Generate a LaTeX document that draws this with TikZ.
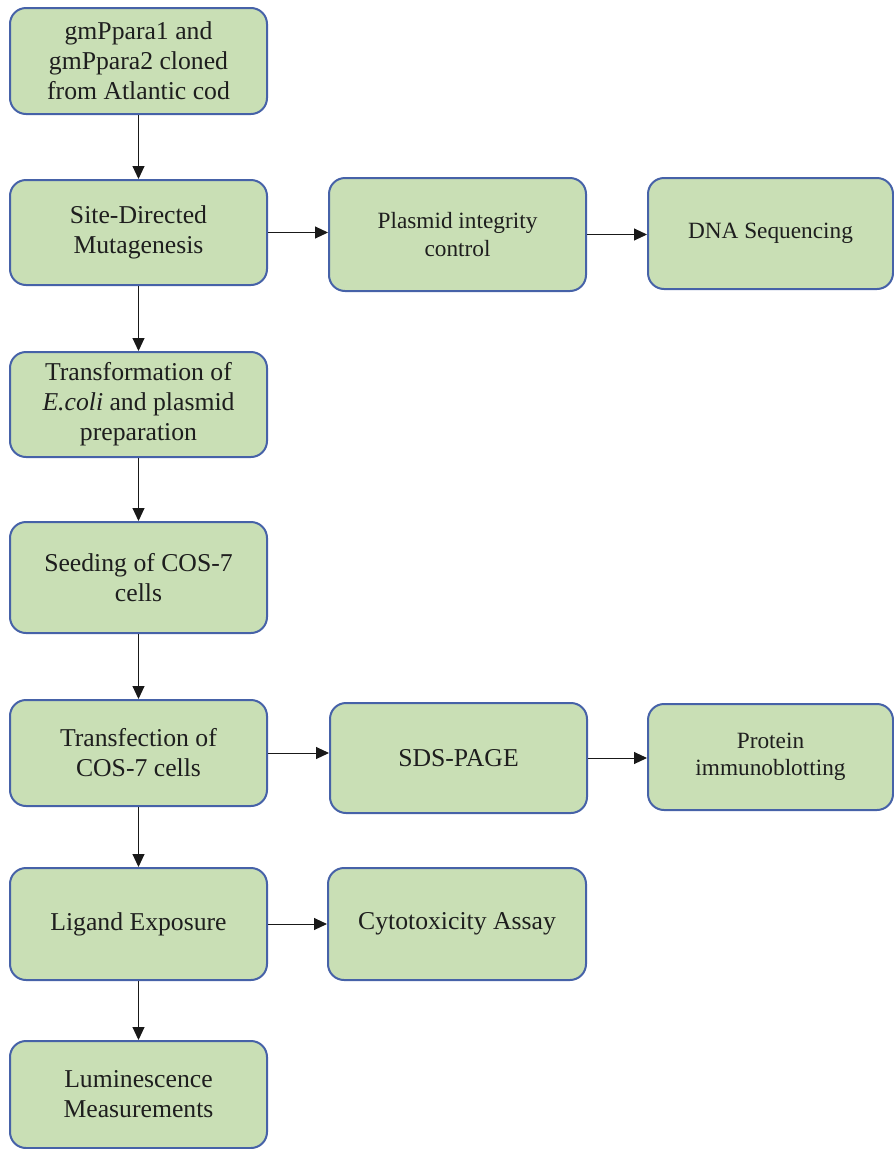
\documentclass[tikz,border=0pt]{standalone}
\usepackage{fontspec}
\setmainfont{Liberation Serif}
\usetikzlibrary{arrows.meta}
\definecolor{boxfill}{HTML}{C9DFB5}
\definecolor{boxline}{HTML}{4662A8}
\definecolor{txt}{HTML}{1E1E1E}
\tikzset{
  stepbox/.style={draw=boxline, fill=boxfill, line width=2pt, rounded corners=16pt,
    align=center, text=txt, inner sep=0pt, font=\fontsize{25.7}{30}\selectfont},
  smalltext/.style={font=\fontsize{23.3}{27.5}\selectfont},
  flow/.style={-{Triangle[length=13pt,width=12pt]}, line width=1pt, draw=black!90}
}
\begin{document}
\begin{tikzpicture}[x=1pt,y=-1pt]
\useasboundingbox (0,0) rectangle (894,1149);
% left column
\node[stepbox, minimum width=257pt, minimum height=106pt] (b1) at (138.5,61) {gmPpara1 and\\gmPpara2 cloned\\from Atlantic cod};
\node[stepbox, minimum width=257pt, minimum height=105pt] (b2) at (138.5,232.5) {Site-Directed\\Mutagenesis};
\node[stepbox, minimum width=257pt, minimum height=105pt] (b3) at (138.5,404.5) {Transformation of\\\textit{E.coli} and plasmid\\preparation};
\node[stepbox, minimum width=257pt, minimum height=111pt] (b4) at (138.5,577.5) {Seeding of COS-7\\cells};
\node[stepbox, minimum width=257pt, minimum height=106pt] (b5) at (138.5,753) {Transfection of\\COS-7 cells};
\node[stepbox, minimum width=257pt, minimum height=112pt] (b6) at (138.5,924) {Ligand Exposure};
\node[stepbox, minimum width=257pt, minimum height=107pt] (b7) at (138.5,1094.5) {Luminescence\\Measurements};
% middle column
\node[stepbox, smalltext, minimum width=257pt, minimum height=113pt] (p) at (457.5,234.5) {Plasmid integrity\\control};
\node[stepbox, minimum width=257pt, minimum height=110pt] (s) at (458.5,758) {SDS-PAGE};
\node[stepbox, minimum width=258pt, minimum height=112pt] (c) at (457,924) {Cytotoxicity Assay};
% right column
\node[stepbox, smalltext, minimum width=245pt, minimum height=111pt] (d) at (770.5,233.5) {DNA Sequencing};
\node[stepbox, smalltext, minimum width=245pt, minimum height=106pt] (pr) at (770.5,757) {Protein\\immunoblotting};
% vertical connectors
\draw[flow] (b1.south) -- (b2.north);
\draw[flow] (b2.south) -- (b3.north);
\draw[flow] (b3.south) -- (b4.north);
\draw[flow] (b4.south) -- (b5.north);
\draw[flow] (b5.south) -- (b6.north);
\draw[flow] (b6.south) -- (b7.north);
% horizontal connectors
\draw[flow] (b2.east) -- (b2.east -| p.west);
\draw[flow] (p.east) -- (p.east -| d.west);
\draw[flow] (b5.east) -- (b5.east -| s.west);
\draw[flow] (s.east) -- (s.east -| pr.west);
\draw[flow] (b6.east) -- (b6.east -| c.west);
\end{tikzpicture}
\end{document}
